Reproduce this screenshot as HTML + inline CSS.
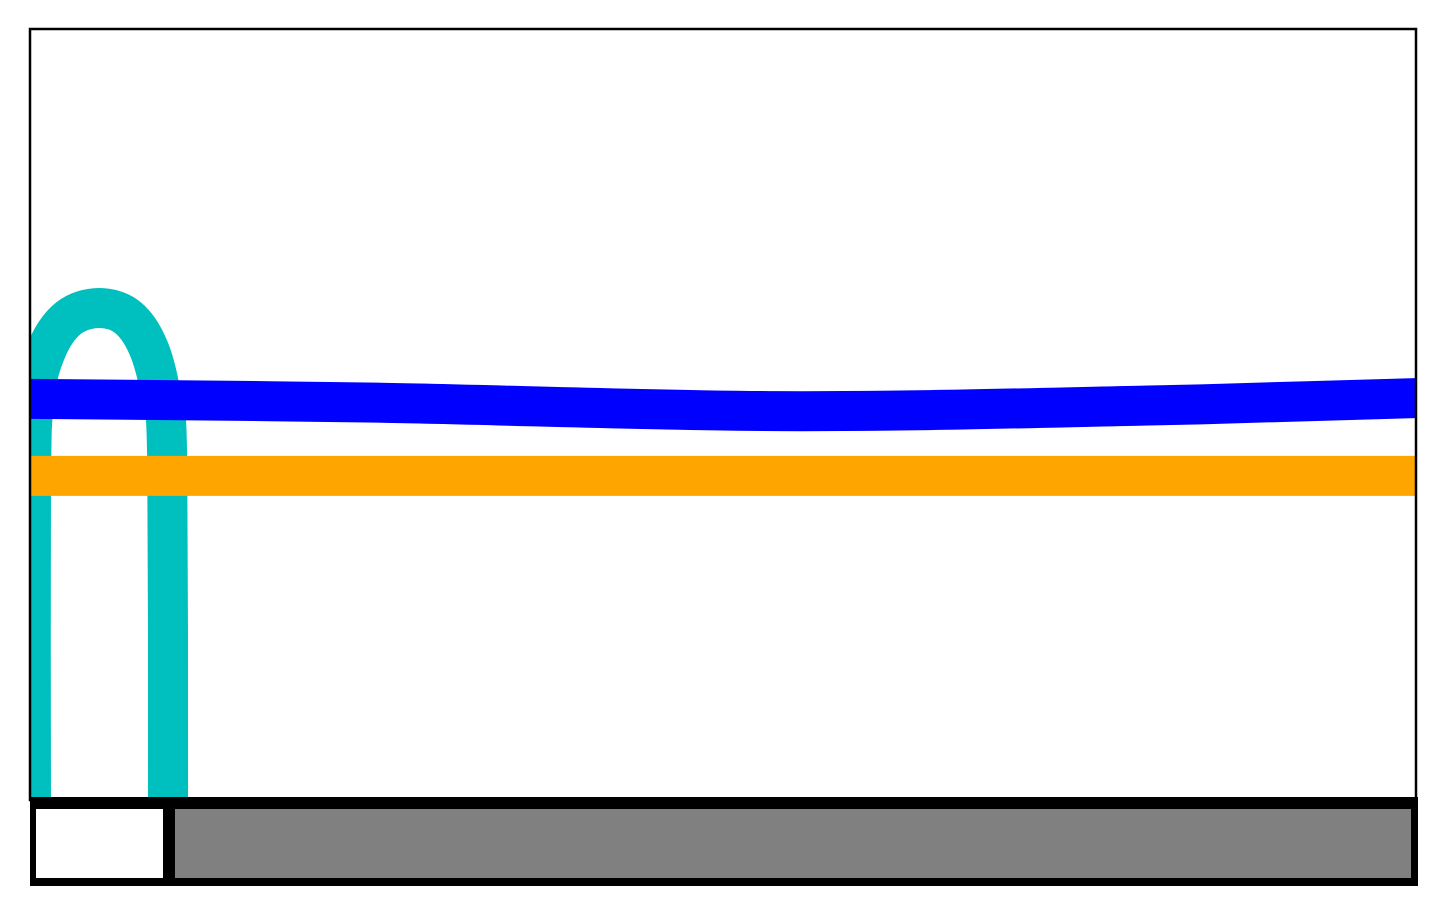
<!DOCTYPE html>
<html><head><meta charset="utf-8"><style>html,body{margin:0;padding:0;background:#fff}svg{display:block}</style></head>
<body>
<svg id="chart" width="1446" height="914" viewBox="0 0 1446 914" xmlns="http://www.w3.org/2000/svg">
<defs><clipPath id="clip"><rect x="31" y="30" width="1384" height="768"/></clipPath></defs>
<rect x="0" y="0" width="1446" height="914" fill="#fff"/>
<g id="series" clip-path="url(#clip)"></g>
<rect x="30" y="29" width="1386" height="771" fill="none" stroke="#000" stroke-width="2.5"/>
<g>
<rect x="30" y="797" width="1388" height="89" fill="#000"/>
<rect x="36" y="809" width="127" height="69" fill="#fff"/>
<rect x="175" y="809" width="1236" height="69" fill="#808080"/>
</g>
</svg>
<script>
const blueX = [0, 25, 54, 80, 100];
const blueY = [52.1, 51.6, 50.5, 51.2, 52.2];
const orangeX = [0, 100];
const orangeY = [42.1, 42.1];
const cyanX = [0.07, 0.07, 0.3, 1.2, 2.8, 5.0, 7.1, 8.6, 9.5, 9.9, 9.96];
const cyanY = [0, 40, 52, 58.5, 62.6, 63.9, 62.6, 58.5, 52, 44, 0];

function sx(v){return 30 + v*13.86;}
function sy(v){return 800 - v*7.7;}
function pathFor(xs, ys){
  const p = xs.map((x,i)=>[sx(x), sy(ys[i])]);
  let d = 'M'+p[0][0]+','+p[0][1];
  for(let i=0;i<p.length-1;i++){
    const p0=p[i-1]||p[i], p1=p[i], p2=p[i+1], p3=p[i+2]||p2;
    const c1=[p1[0]+(p2[0]-p0[0])/6, p1[1]+(p2[1]-p0[1])/6];
    const c2=[p2[0]-(p3[0]-p1[0])/6, p2[1]-(p3[1]-p1[1])/6];
    d+=' C'+c1[0]+','+c1[1]+' '+c2[0]+','+c2[1]+' '+p2[0]+','+p2[1];
  }
  return d;
}
const g = document.getElementById('series');
function addLine(xs, ys, color, name){
  const el = document.createElementNS('http://www.w3.org/2000/svg','path');
  el.setAttribute('d', pathFor(xs, ys));
  el.setAttribute('fill','none');
  el.setAttribute('stroke', color);
  el.setAttribute('stroke-width','40');
  
  
  g.appendChild(el);
}
addLine(cyanX, cyanY, '#00bfbf', 'cyan-arch-line');
addLine(blueX, blueY, '#0000ff', 'blue-line');
addLine(orangeX, orangeY, '#ffa500', 'orange-line');
</script>
</body></html>
